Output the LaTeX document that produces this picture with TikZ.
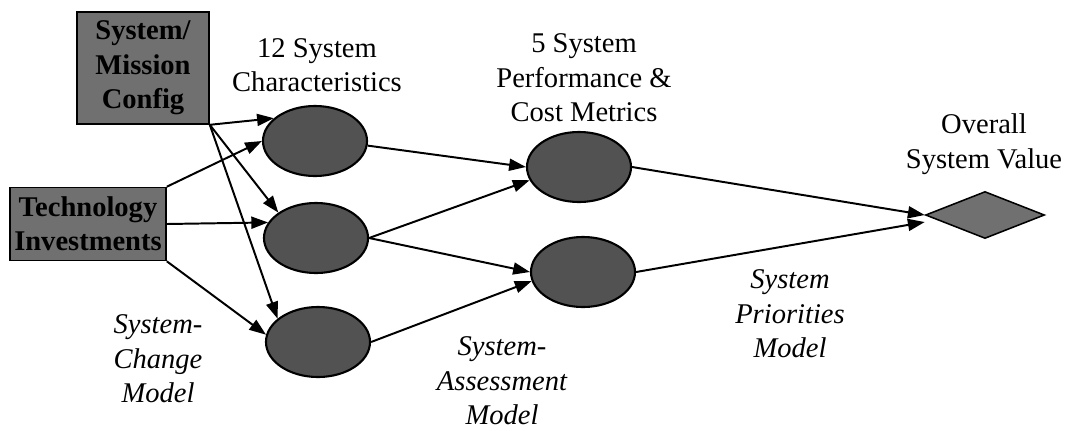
\documentclass[tikz,border=0pt]{standalone}
\usepackage{fontspec}
\setmainfont{Liberation Serif}
\usetikzlibrary{shapes.geometric,arrows.meta}
\definecolor{boxgray}{RGB}{112,112,112}
\definecolor{nodegray}{RGB}{82,82,82}
\newcommand{\diagfont}{\fontsize{20.3}{24.5}\selectfont}
\tikzset{
    input box/.style={draw, fill=boxgray, line width=1.1pt, inner sep=1pt, align=center, font=\diagfont\bfseries},
    metric node/.style={ellipse, draw, fill=nodegray, line width=1.5pt, minimum width=2.6cm, minimum height=1.75cm, inner sep=0pt},
    value node/.style={diamond, draw, fill=boxgray, line width=1.1pt, minimum width=2.975cm, minimum height=1.175cm, inner sep=0pt},
    layer label/.style={align=center, font=\diagfont},
    model label/.style={align=center, font=\diagfont\itshape},
    flow arrow/.style={-{Triangle[length=0.42cm, width=0.3cm]}, line width=1.4pt},
}

\begin{document}
\begin{tikzpicture}[x=0.025cm, y=-0.025cm]
\useasboundingbox (0,0) rectangle (1072,430);

\node[input box, minimum width=3.3cm, minimum height=2.8cm] (config) at (143,68) {System/\\Mission\\Config};
\node[input box, minimum width=3.9cm, minimum height=1.825cm] (tech) at (88,224) {Technology\\Investments};

\node[metric node] (sc1) at (315,141) {};
\node[metric node] (sc2) at (316,238) {};
\node[metric node] (sc3) at (318,342) {};
\node[metric node] (pm1) at (579,167) {};
\node[metric node] (pm2) at (583,272) {};
\node[value node] (value) at (985,215) {};

\node[layer label] (charlabel) at (317,65) {12 System\\Characteristics};
\node[layer label] (metriclabel) at (584,78) {5 System\\Performance \&\\Cost Metrics};
\node[layer label] (valuelabel) at (984,144) {Overall\\System Value};
\node[model label] (changelabel) at (158,359) {System-\\Change\\Model};
\node[model label] (assesslabel) at (502,381) {System-\\Assessment\\Model};
\node[model label] (prioritylabel) at (790,314) {System\\Priorities\\Model};

\draw[flow arrow] (config.south east) -- (sc1.151);
\draw[flow arrow] (config.south east) -- (sc2.146);
\draw[flow arrow] (config.south east) -- (sc3.150);
\draw[flow arrow] (tech.north east) -- (sc1.west);
\draw[flow arrow] (tech.east) -- (sc2.162);
\draw[flow arrow] (tech.south east) -- (sc3.172);
\draw[flow arrow] (sc1.-5) -- (pm1.west);
\draw[flow arrow] (sc2.east) -- (pm1.195);
\draw[flow arrow] (sc2.east) -- (pm2.west);
\draw[flow arrow] (sc3.east) -- (pm2.190);
\draw[flow arrow] (pm1.east) -- (value.west);
\draw[flow arrow] (pm2.east) -- ([yshift=-5pt]value.west);
\end{tikzpicture}
\end{document}
